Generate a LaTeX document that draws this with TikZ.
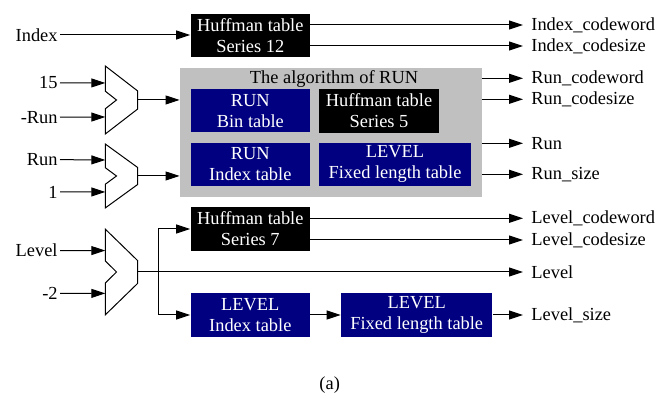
\documentclass[tikz,border=0pt]{standalone}
\usepackage{fontspec}
\setmainfont{Liberation Serif}
\usetikzlibrary{arrows.meta}
\definecolor{tblblue}{RGB}{0,0,128}
\definecolor{algray}{RGB}{192,192,192}
\tikzset{
  arr/.style={-{Triangle[length=7pt,width=4.5pt]}, line width=0.5pt},
  tbl/.style={fill=tblblue, text=white, align=center, inner sep=0pt, minimum width=59.7pt, minimum height=21.7pt},
  widetbl/.style={tbl, minimum width=75.7pt},
  huf/.style={tbl, fill=black},
  inlbl/.style={anchor=east, inner sep=1pt},
  outlbl/.style={anchor=west, inner sep=2pt},
}
\begin{document}
\begin{tikzpicture}[x=0.5pt,y=-0.5pt,font=\fontsize{9.2}{10.5}\selectfont]
\useasboundingbox (0,0) rectangle (670,399);

\node[fill=algray, minimum width=150.85pt, minimum height=64.65pt, inner sep=0pt] (alg) at (330.8,132.3) {};
\node[anchor=north, inner sep=0pt] (algtitle) at (334,70.5) {The algorithm of RUN};

\node[huf] (hs12) at (250.3,35.5) {Huffman table\\Series 12};
\node[tbl] (binT) at (250.3,110.8) {RUN\\Bin table};
\node[huf] (hs5) at (379,111) {Huffman table\\Series 5};
\node[tbl] (idxT) at (250.3,164.3) {RUN\\Index table};
\node[widetbl] (fixR) at (395,164.3) {LEVEL\\Fixed length table};
\node[huf] (hs7) at (250.3,229) {Huffman table\\Series 7};
\node[tbl] (lidx) at (250.3,315) {LEVEL\\Index table};
\node[widetbl] (lfix) at (416.7,315) {LEVEL\\Fixed length table};

\foreach \n/\y/\s in {m1/100/1, m2/176/0.94, m3/272/1.26} {
  \begin{scope}[shift={(0,\y)}, yscale=\s]
    \draw[line width=0.5pt] (105.3,-34) -- (137.7,-9) -- (137.7,9) -- (105.3,34) -- (105.3,8.8) -- (116.5,0) -- (105.3,-8.8) -- cycle;
    \coordinate (\n-a) at (105.3,-17);
    \coordinate (\n-b) at (105.3,17);
    \coordinate (\n-o) at (137.7,0);
  \end{scope}
}

\node[inlbl] (iIndex) at (60,35) {Index};
\node[inlbl] (i15) at (60,82.7) {15};
\node[inlbl] (iRun) at (60,117.3) {-Run};
\node[inlbl] (iRun2) at (60,159.5) {Run};
\node[inlbl] (i1) at (60,192) {1};
\node[inlbl] (iLevel) at (60,250.6) {Level};
\node[inlbl] (i2) at (60,293.4) {-2};

\draw[arr] (iIndex) -- (hs12.west |- iIndex);
\draw[arr] (i15) -- (m1-a);
\draw[arr] (iRun) -- (m1-b);
\draw[arr] (iRun2) -- (m2-a);
\draw[arr] (i1) -- (m2-b);
\draw[arr] (iLevel) -- (m3-a);
\draw[arr] (i2) -- (m3-b);

\draw[arr] (m1-o) -- (alg.west |- m1-o);
\draw[arr] (m2-o) -- (alg.west |- m2-o);

\node[outlbl] (oIcw) at (527,25) {Index\_codeword};
\node[outlbl] (oIcs) at (527,46) {Index\_codesize};
\node[outlbl] (oRcw) at (527,78.3) {Run\_codeword};
\node[outlbl] (oRcs) at (527,99.3) {Run\_codesize};
\node[outlbl] (oRun) at (527,143.3) {Run};
\node[outlbl] (oRsz) at (527,174.3) {Run\_size};
\node[outlbl] (oLcw) at (527,218.3) {Level\_codeword};
\node[outlbl] (oLcs) at (527,240) {Level\_codesize};
\node[outlbl] (oLev) at (527,272) {Level};
\node[outlbl] (oLsz) at (527,315) {Level\_size};

\draw[arr, shorten >=2pt] (hs12.east |- oIcw) -- (oIcw.west);
\draw[arr, shorten >=2pt] (hs12.east |- oIcs) -- (oIcs.west);
\draw[arr, shorten >=2pt] (alg.east |- oRcw) -- (oRcw.west);
\draw[arr, shorten >=2pt] (alg.east |- oRcs) -- (oRcs.west);
\draw[arr, shorten >=2pt] (alg.east |- oRun) -- (oRun.west);
\draw[arr, shorten >=2pt] (alg.east |- oRsz) -- (oRsz.west);
\draw[arr, shorten >=2pt] (hs7.east |- oLcw) -- (oLcw.west);
\draw[arr, shorten >=2pt] (hs7.east |- oLcs) -- (oLcs.west);
\draw[arr, shorten >=2pt] (m3-o) -- (oLev.west);
\draw[arr, shorten >=2pt] (lfix) -- (oLsz.west);

\coordinate (br) at (158.3,272);
\draw[arr] (br) |- (hs7.west);
\draw[arr] (br) |- (lidx.west);
\draw[arr] (lidx) -- (lfix);

\node (cap) at (329.7,385) {(a)};
\end{tikzpicture}
\end{document}
